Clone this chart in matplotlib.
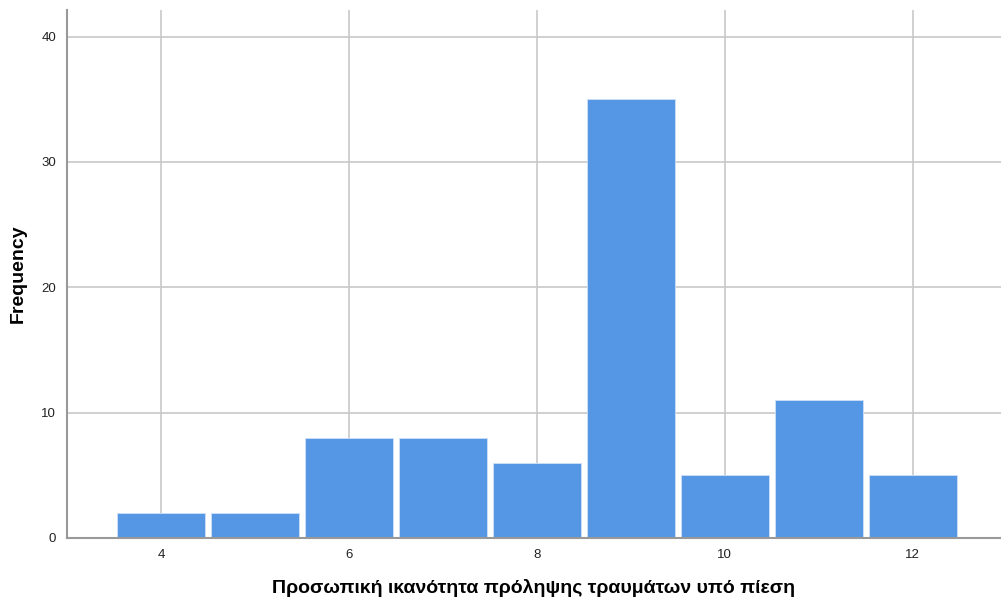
import matplotlib
matplotlib.use("Agg")
import matplotlib.pyplot as plt

# Τιμές κλίμακας και συχνότητες
scores = [4, 5, 6, 7, 8, 9, 10, 11, 12]
freq = [2, 2, 8, 8, 6, 35, 5, 11, 5]
x_ticks = [4, 6, 8, 10, 12]
y_ticks = [0, 10, 20, 30, 40]

plt.rcParams['font.family'] = ['Liberation Sans', 'DejaVu Sans']

fig = plt.figure(figsize=(10.01, 6.03), dpi=100)
ax = fig.add_axes([0.067, 0.108, 0.933, 0.875])

ax.bar(scores, freq, width=0.94, color='#5597e4', edgecolor='#cfe0f7',
       linewidth=0.6, zorder=3)

ax.set_xlim(3.0, 12.94)
ax.set_ylim(0, 42.1)
ax.set_xticks(x_ticks)
ax.set_yticks(y_ticks)
ax.grid(True, color='#c8c8c8', linewidth=1.2, zorder=0)
ax.tick_params(length=0, labelsize=9.5, colors='#222222', pad=8)

for s in ['top', 'right']:
    ax.spines[s].set_visible(False)
for s in ['left', 'bottom']:
    ax.spines[s].set_color('#999999')
    ax.spines[s].set_linewidth(1.5)
    ax.spines[s].set_zorder(4)

ax.set_ylabel('Frequency', fontsize=14, fontweight='bold', labelpad=10)
ax.set_xlabel('Προσωπική ικανότητα πρόληψης τραυμάτων υπό πίεση',
              fontsize=14, fontweight='bold', labelpad=13)

plt.savefig('out.png', dpi=100)
